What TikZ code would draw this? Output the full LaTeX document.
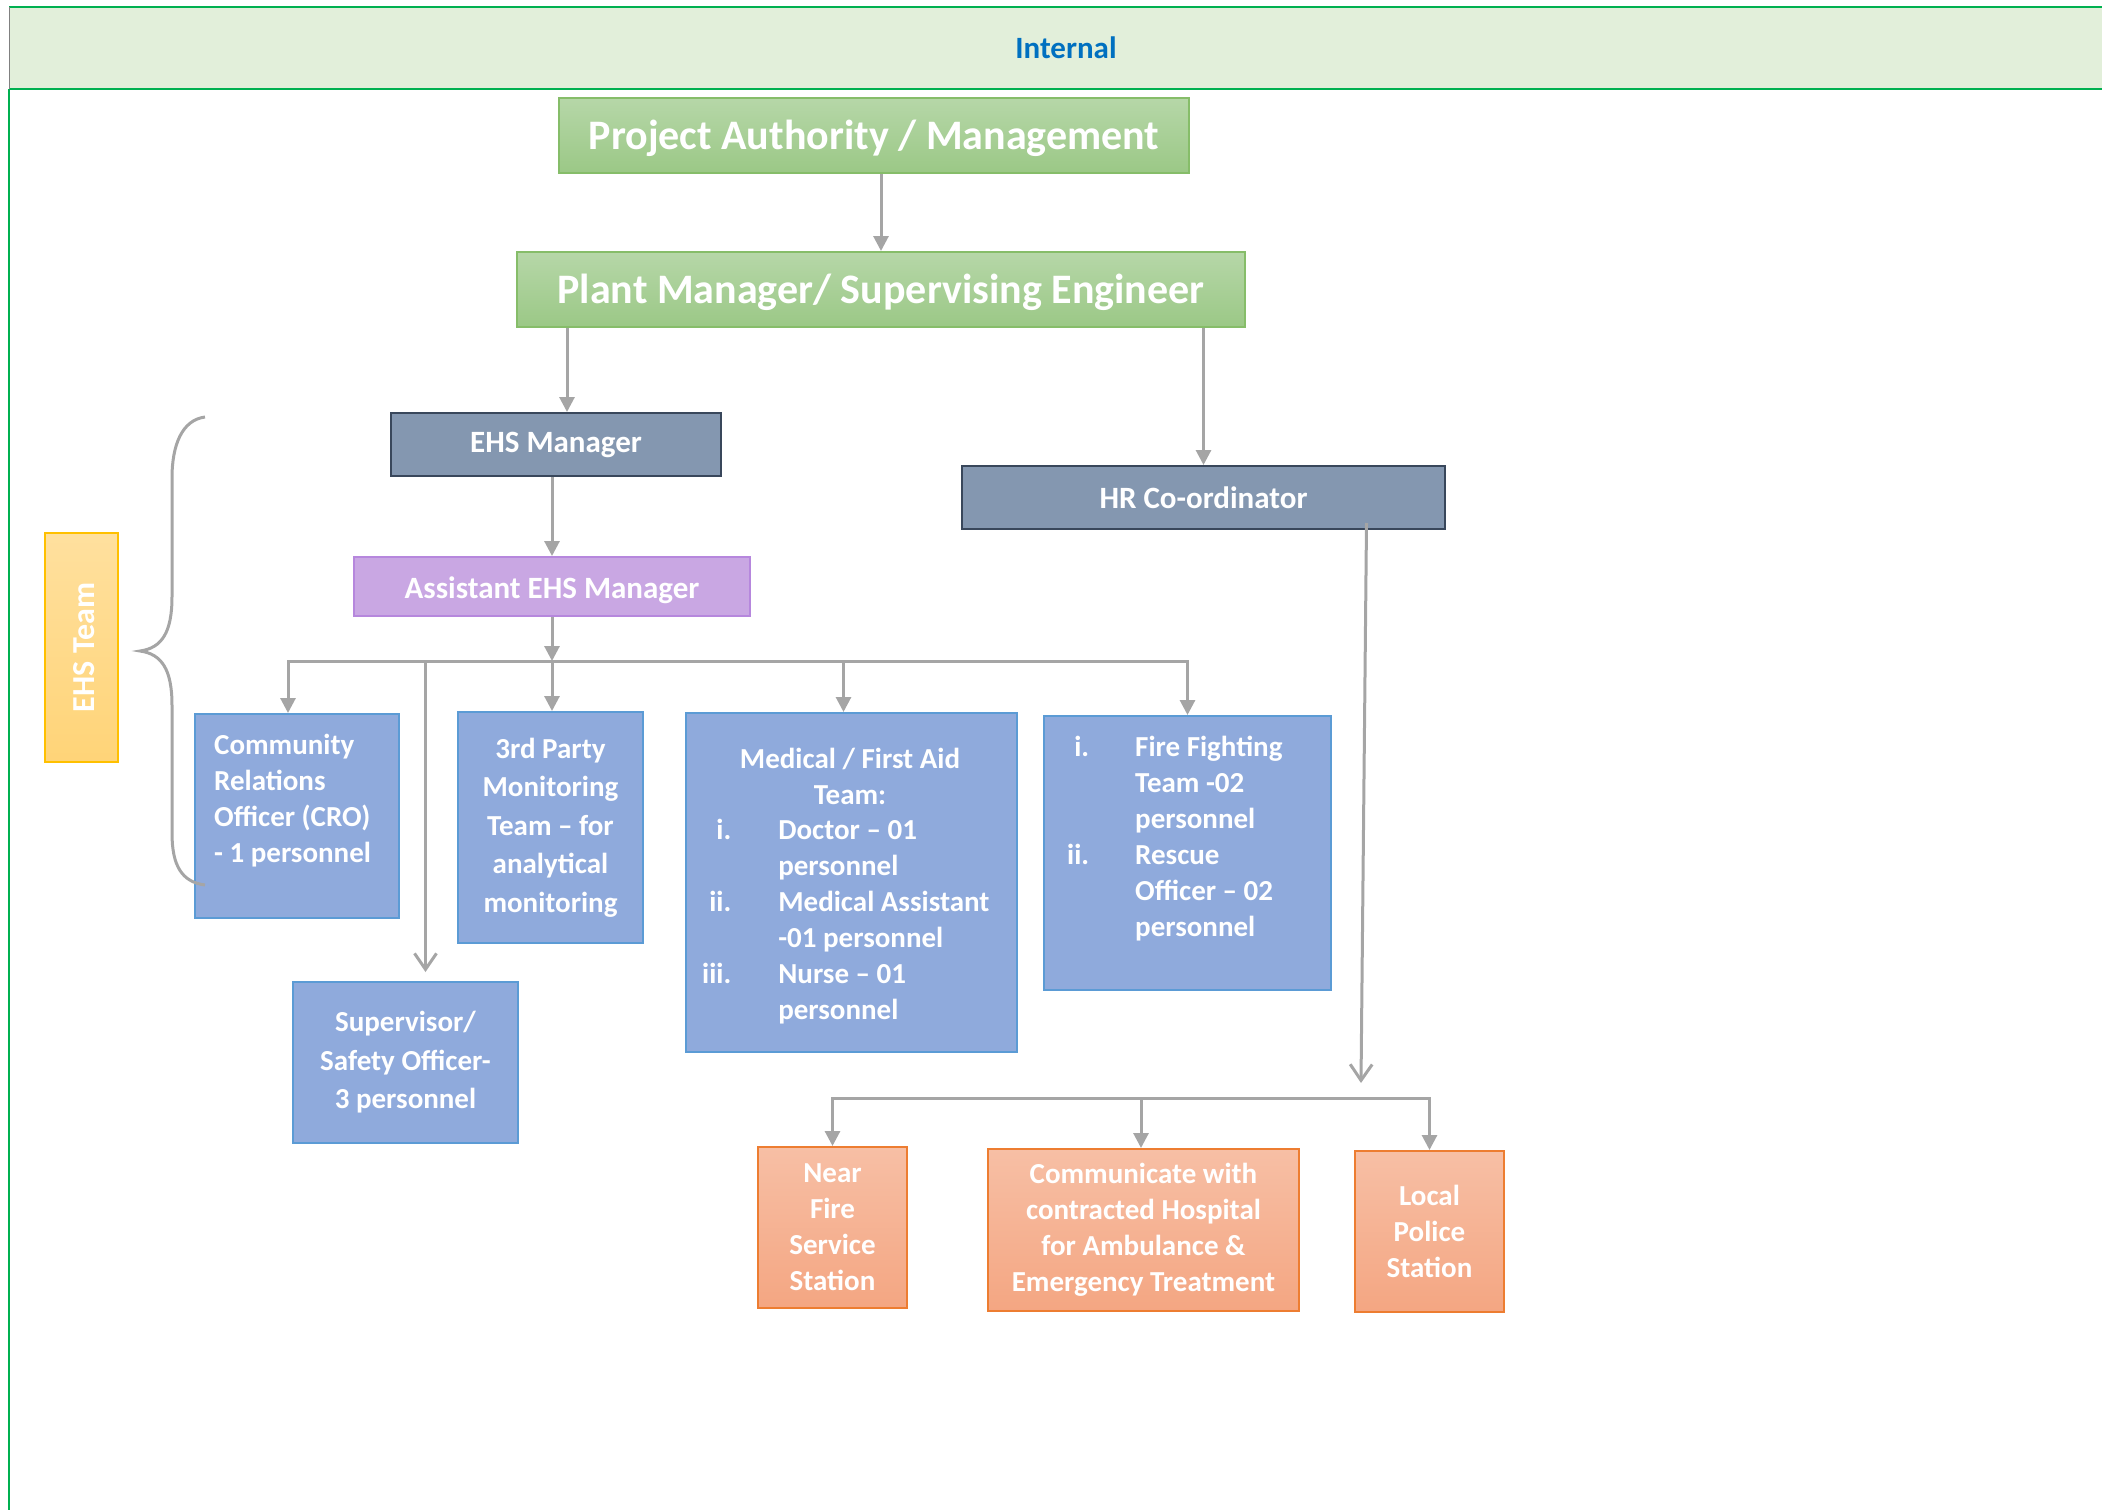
\documentclass[tikz,border=0pt]{standalone}
\usepackage{fontspec}
\setmainfont{Carlito}
\usetikzlibrary{arrows.meta}

\definecolor{bandfill}{HTML}{E2EFDA}
\definecolor{bandline}{HTML}{00B050}
\definecolor{bandtext}{HTML}{0070C0}
\definecolor{conngray}{HTML}{A5A5A5}
\definecolor{greentop}{HTML}{B6D7A8}
\definecolor{greenbot}{HTML}{9BC886}
\definecolor{greenline}{HTML}{86BD69}
\definecolor{slatefill}{HTML}{8497B0}
\definecolor{slateline}{HTML}{39475B}
\definecolor{lilacfill}{HTML}{C9A7E3}
\definecolor{lilacline}{HTML}{B687DD}
\definecolor{bluefill}{HTML}{8FAADC}
\definecolor{blueline}{HTML}{5B9BD5}
\definecolor{peachtop}{HTML}{F7BFA5}
\definecolor{peachbot}{HTML}{F4A682}
\definecolor{peachline}{HTML}{ED7D31}
\definecolor{goldtop}{HTML}{FFE09E}
\definecolor{goldbot}{HTML}{FFD478}
\definecolor{goldline}{HTML}{FFC000}

\newcommand\bigfs{\fontsize{42pt}{50pt}\selectfont\bfseries}
\newcommand\midfs{\fontsize{31pt}{38pt}\selectfont\bfseries}
\newcommand\smallfs{\fontsize{29pt}{36pt}\selectfont\bfseries}
\newcommand\widefs{\fontsize{29pt}{38.5pt}\selectfont\bfseries}

\begin{document}
\begin{tikzpicture}[x=1pt,y=-1pt,
  conn/.style={draw=conngray, line width=3pt},
  fillhead/.style={-{Triangle[width=15pt,length=15pt]}},
  openhead/.style={-{Straight Barb[width=22pt,length=16pt]}},
  box/.style={anchor=north west, inner sep=0pt, line width=2pt, text=white, align=center},
  greenbox/.style={box, draw=greenline, top color=greentop, bottom color=greenbot, font=\bigfs, text height=36pt, text depth=9pt},
  slatebox/.style={box, draw=slateline, fill=slatefill, font=\midfs},
  lilacbox/.style={box, draw=lilacline, fill=lilacfill, font=\midfs, text height=30pt, text depth=7pt},
  bluebox/.style={box, draw=blueline, fill=bluefill, font=\smallfs},
  peachbox/.style={box, draw=peachline, top color=peachtop, bottom color=peachbot, font=\smallfs},
  goldbox/.style={box, draw=goldline, top color=goldtop, bottom color=goldbot},
  txt/.style={inner sep=0pt, text=white, font=\smallfs},
]
\useasboundingbox (0,0) rectangle (2102,1510);

% header band and frame
\fill[bandfill] (9,7) rectangle (2102,89);
\draw[bandline, line width=2.5pt] (9,7) -- (2102,7);
\draw[bandline, line width=2.5pt] (9,89) -- (2102,89);
\draw[gray, line width=1pt] (9,7) -- (9,89);
\draw[bandline, line width=2pt] (9,89) -- (9,1510);
\node[text=bandtext, font=\fontsize{31pt}{38pt}\selectfont\bfseries] (hdr) at (1066,48) {Internal};

% management levels
\node[greenbox, minimum width=630pt, minimum height=75pt] (pa) at (558,97) {Project Authority / Management};
\node[greenbox, minimum width=728pt, minimum height=75pt] (pm) at (516,251) {Plant Manager/ Supervising Engineer};
\node[slatebox, minimum width=330pt, minimum height=63pt] (ehs) at (390,412) {EHS Manager};
\node[slatebox, minimum width=483pt, minimum height=63pt] (hr) at (961,465) {HR Co-ordinator};
\node[lilacbox, minimum width=396pt, minimum height=59pt] (asst) at (353,556) {Assistant EHS Manager};

% EHS team members
\node[bluebox, minimum width=204pt, minimum height=204pt] (cro) at (194,713) {};
\node[txt, anchor=west, align=left] (crotext) at (214,801) {Community\\Relations\\Officer (CRO)\\- 1 personnel};
\node[bluebox, font=\widefs, minimum width=185pt, minimum height=231pt] (third) at (457,711) {3rd Party\\Monitoring\\Team – for\\analytical\\monitoring};
\node[bluebox, font=\widefs, minimum width=225pt, minimum height=161pt] (sup) at (292,981) {Supervisor/\\Safety Officer-\\3 personnel};
\node[bluebox, minimum width=331pt, minimum height=339pt] (med) at (685,712) {};
\node[txt, align=center] (medhead) at (850,776) {Medical / First Aid\\Team:};
\node[txt, anchor=west] (medlist) at (702,922) {%
  \begin{tabular}{@{}r@{\hspace{47pt}}l@{}}
  i. & Doctor – 01\\
     & personnel\\
  ii. & Medical Assistant\\
     & -01 personnel\\
  iii. & Nurse – 01\\
     & personnel
  \end{tabular}};
\node[bluebox, minimum width=287pt, minimum height=274pt] (fire) at (1043,715) {};
\node[txt, anchor=west] (firelist) at (1067,839) {%
  \begin{tabular}{@{}r@{\hspace{46pt}}l@{}}
  i. & Fire Fighting\\
     & Team -02\\
     & personnel\\
  ii. & Rescue\\
     & Officer – 02\\
     & personnel
  \end{tabular}};

% external contacts
\node[peachbox, minimum width=149pt, minimum height=161pt] (nearfire) at (757,1146) {Near\\Fire\\Service\\Station};
\node[peachbox, minimum width=311pt, minimum height=162pt] (comm) at (987,1148) {Communicate with\\contracted Hospital\\for Ambulance \&\\Emergency Treatment};
\node[peachbox, minimum width=149pt, minimum height=161pt] (police) at (1354,1150) {Local\\Police\\Station};

% EHS team tag and brace
\node[goldbox, minimum width=73pt, minimum height=229pt] (ehsteam) at (44,532) {};
\node[txt, rotate=90, font=\fontsize{32pt}{38pt}\selectfont\bfseries] (ehsteamtext) at ([xshift=3pt]ehsteam.center) {EHS Team};
\draw[conngray, line width=3pt]
  (205,417) .. controls (182,420) and (172,445) .. (172,478)
  -- (172,597)
  .. controls (172,632) and (162,648) .. (140,651)
  .. controls (162,654) and (172,670) .. (172,705)
  -- (172,833)
  .. controls (172,866) and (182,882) .. (205,885);

% connectors
\draw[conn, fillhead] (pa.south -| pm.north) -- (pm.north);
\coordinate (ehsin) at ([xshift=11pt]ehs.north);
\draw[conn, fillhead] (pm.south -| ehsin) -- (ehsin);
\draw[conn, fillhead] (pm.south -| hr.north) -- (hr.north);
\draw[conn, fillhead] (ehs.south -| asst.north) -- (asst.north);

\coordinate (bus) at (551,661);
\draw[conn, fillhead] (asst.south) -- (asst.south |- bus);
\coordinate (croin) at ([xshift=-9pt]cro.north);
\draw[conn, fillhead] (asst.south |- bus) -| (croin);
\draw[conn, fillhead] (asst.south |- bus) -| (fire.north);
\draw[conn, fillhead] (asst.south |- bus) -- (asst.south |- third.north);
\coordinate (medin) at ([xshift=-8pt]med.north);
\draw[conn, fillhead] (medin |- bus) -- (medin);
\coordinate (supin) at ([xshift=20pt,yshift=9pt]sup.north);
\draw[conn, openhead] (supin |- bus) -- (supin);

\coordinate (hrout) at ([xshift=163pt,yshift=7pt]hr.south);
\coordinate (hrend) at (1361,1083);
\draw[conn, openhead] (hrout) -- (hrend);

\coordinate (obus) at (1141,1098);
\draw[conn, fillhead] (obus) -| (nearfire.north);
\draw[conn, fillhead] (obus) -| (police.north);
\draw[conn, fillhead] (obus) -- (obus |- comm.north);
\end{tikzpicture}
\end{document}
